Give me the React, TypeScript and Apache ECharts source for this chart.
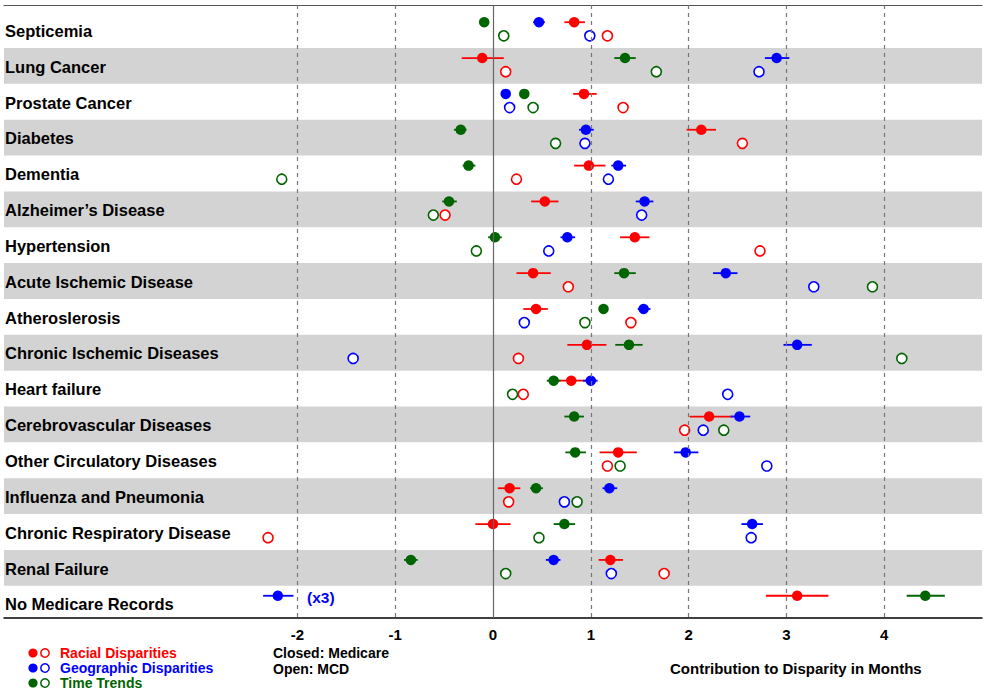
import React, { useEffect, useRef } from "react";
import * as echarts from "echarts";

const categories = [
  "Septicemia",
  "Lung Cancer",
  "Prostate Cancer",
  "Diabetes",
  "Dementia",
  "Alzheimer’s Disease",
  "Hypertension",
  "Acute Ischemic Disease",
  "Atheroslerosis",
  "Chronic Ischemic Diseases",
  "Heart failure",
  "Cerebrovascular Diseases",
  "Other Circulatory Diseases",
  "Influenza and Pneumonia",
  "Chronic Respiratory Disease",
  "Renal Failure",
  "No Medicare Records",
];

const xTicks = [-2, -1, 0, 1, 2, 3, 4];

// Racial disparities (red)
const racialMedicare = [0.83, -0.11, 0.93, 2.13, 0.98, 0.53, 1.45, 0.41, 0.44, 0.96, 0.8, 2.21, 1.28, 0.17, 0.0, 1.2, 3.11];
const racialLow = [0.73, -0.32, 0.82, 1.98, 0.83, 0.39, 1.3, 0.24, 0.31, 0.76, 0.62, 2.01, 1.09, 0.05, -0.18, 1.08, 2.79];
const racialHigh = [0.94, 0.11, 1.06, 2.28, 1.15, 0.67, 1.6, 0.59, 0.56, 1.16, 0.96, 2.45, 1.47, 0.28, 0.18, 1.33, 3.43];
const racialMCD = [1.17, 0.13, 1.33, 2.55, 0.24, -0.49, 2.73, 0.77, 1.41, 0.26, 0.31, 1.96, 1.17, 0.16, -2.3, 1.75, null];

// Geographic disparities (blue)
const geoMedicare = [0.47, 2.9, 0.13, 0.95, 1.28, 1.55, 0.76, 2.38, 1.54, 3.11, 1.0, 2.52, 1.97, 1.19, 2.65, 0.62, -2.2];
const geoLow = [0.41, 2.78, 0.11, 0.88, 1.21, 1.46, 0.69, 2.25, 1.48, 2.97, 0.92, 2.43, 1.85, 1.12, 2.54, 0.54, -2.35];
const geoHigh = [0.53, 3.03, 0.15, 1.03, 1.36, 1.64, 0.84, 2.5, 1.61, 3.26, 1.07, 2.63, 2.1, 1.27, 2.76, 0.69, -2.04];
const geoMCD = [0.99, 2.72, 0.17, 0.94, 1.18, 1.52, 0.57, 3.28, 0.32, -1.43, 2.4, 2.15, 2.8, 0.73, 2.64, 1.21, null];

// Time trends (green)
const timeMedicare = [-0.09, 1.35, 0.32, -0.33, -0.25, -0.45, 0.02, 1.34, 1.13, 1.39, 0.62, 0.83, 0.84, 0.44, 0.73, -0.84, 4.42];
const timeLow = [-0.11, 1.24, 0.3, -0.4, -0.31, -0.52, -0.05, 1.24, 1.09, 1.25, 0.55, 0.73, 0.74, 0.38, 0.62, -0.91, 4.23];
const timeHigh = [-0.07, 1.46, 0.34, -0.27, -0.18, -0.37, 0.09, 1.46, 1.17, 1.53, 0.69, 0.93, 0.95, 0.51, 0.84, -0.77, 4.62];
const timeMCD = [0.11, 1.67, 0.41, 0.64, -2.16, -0.61, -0.17, 3.88, 0.94, 4.18, 0.2, 2.36, 1.3, 0.86, 0.47, 0.13, null];

const RED = "#ff0000";
const BLUE = "#0000ff";
const GREEN = "#006400";
const FONT = "Liberation Sans";

const FILLED_OFF = 0.28;
const OPEN_OFF = 0.66;
const LABEL_OFF = 0.52;

function errorSeries(low: number[], high: number[], color: string) {
  return {
    type: "custom",
    z: 3,
    silent: true,
    encode: { x: [0, 1], y: 2 },
    data: low.map((lo, i) => [lo, high[i], i + FILLED_OFF]),
    renderItem: (params: any, api: any) => {
      const p1 = api.coord([api.value(0), api.value(2)]);
      const p2 = api.coord([api.value(1), api.value(2)]);
      return {
        type: "line",
        shape: { x1: p1[0], y1: p1[1], x2: p2[0], y2: p2[1] },
        style: { stroke: color, lineWidth: 1.8 },
      };
    },
  };
}

function filledSeries(values: number[], color: string) {
  return {
    type: "scatter",
    z: 4,
    symbol: "circle",
    symbolSize: 10.5,
    itemStyle: { color, opacity: 1 },
    data: values.map((v, i) => [v, i + FILLED_OFF]),
  };
}

function openSeries(values: (number | null)[], color: string) {
  const data: number[][] = [];
  values.forEach((v, i) => {
    if (v !== null) data.push([v, i + OPEN_OFF]);
  });
  return {
    type: "scatter",
    z: 4,
    symbol: "circle",
    symbolSize: 10,
    itemStyle: { color: "#ffffff", borderColor: color, borderWidth: 1.6, opacity: 1 },
    data,
  };
}

export default function App() {
  const ref = useRef<HTMLDivElement>(null);

  useEffect(() => {
    if (!ref.current) return;
    const chart = echarts.init(ref.current, null, { renderer: "svg" });

    const bandData: any[] = [];
    categories.forEach((_, i) => {
      if (i % 2 === 1) bandData.push([{ yAxis: i }, { yAxis: i + 1 }]);
    });

    const legendRows = [
      { label: "Racial Disparities", color: RED, y: 653 },
      { label: "Geographic Disparities", color: BLUE, y: 668 },
      { label: "Time Trends", color: GREEN, y: 683 },
    ];

    const graphic: any[] = [];
    legendRows.forEach((r) => {
      graphic.push({ type: "circle", shape: { cx: 33, cy: r.y, r: 4.6 }, style: { fill: r.color } });
      graphic.push({
        type: "circle",
        shape: { cx: 45, cy: r.y, r: 4.2 },
        style: { fill: "#fff", stroke: r.color, lineWidth: 1.5 },
      });
      graphic.push({
        type: "text",
        x: 60,
        y: r.y,
        style: { text: r.label, fill: r.color, font: `bold 14px "${FONT}"`, verticalAlign: "middle", align: "left" },
      });
    });
    graphic.push({
      type: "text",
      x: 273,
      y: 653,
      style: { text: "Closed: Medicare", fill: "#000", font: `bold 14px "${FONT}"`, verticalAlign: "middle" },
    });
    graphic.push({
      type: "text",
      x: 273,
      y: 669,
      style: { text: "Open: MCD", fill: "#000", font: `bold 14px "${FONT}"`, verticalAlign: "middle" },
    });
    graphic.push({
      type: "text",
      x: 670,
      y: 668,
      style: {
        text: "Contribution to Disparity in Months",
        fill: "#000",
        font: `bold 15px "${FONT}"`,
        verticalAlign: "middle",
      },
    });
    graphic.push({
      type: "text",
      x: 307,
      y: 597,
      z: 10,
      style: { text: "(x3)", fill: BLUE, font: `bold 15.5px "${FONT}"`, verticalAlign: "middle" },
    });

    const option: any = {
      animation: false,
      grid: { left: 4, right: 4, top: 5, bottom: 75 },
      xAxis: [
        {
          type: "value",
          min: -5,
          max: 5,
          interval: 1,
          position: "bottom",
          axisLine: { show: true, onZero: false, lineStyle: { color: "#000", width: 1.5 } },
          axisTick: { show: false },
          splitLine: { show: false },
          axisLabel: {
            margin: 9,
            color: "#000",
            fontFamily: FONT,
            fontWeight: "bold",
            fontSize: 15,
            formatter: (v: number) => (xTicks.indexOf(v) >= 0 ? String(v) : ""),
          },
        },
        {
          type: "value",
          min: -5,
          max: 5,
          position: "top",
          axisLine: { show: true, onZero: false, lineStyle: { color: "#555", width: 1.2 } },
          axisTick: { show: false },
          axisLabel: { show: false },
          splitLine: { show: false },
        },
      ],
      yAxis: {
        type: "value",
        inverse: true,
        min: -0.2,
        max: 16.9,
        show: false,
        splitLine: { show: false },
      },
      graphic,
      series: [
        {
          type: "scatter",
          z: 1,
          data: [],
          markArea: {
            silent: true,
            itemStyle: { color: "#d3d3d3" },
            data: bandData,
          },
        },
        {
          type: "scatter",
          z: 2,
          data: [],
          markLine: {
            silent: true,
            symbol: ["none", "none"],
            label: { show: false },
            lineStyle: { color: "#777", type: [4, 4], width: 1.2 },
            data: xTicks.filter((t) => t !== 0).map((t) => ({ xAxis: t })),
          },
        },
        {
          type: "scatter",
          z: 2,
          data: [],
          markLine: {
            silent: true,
            symbol: ["none", "none"],
            label: { show: false },
            lineStyle: { color: "#666", type: "solid", width: 1.2 },
            data: [{ xAxis: 0 }],
          },
        },
        {
          type: "scatter",
          z: 5,
          silent: true,
          symbolSize: 0,
          itemStyle: { color: "#000", opacity: 1 },
          data: categories.map((_, i) => [-5, i + LABEL_OFF]),
          label: {
            show: true,
            position: "right",
            distance: 1,
            color: "#000",
            opacity: 1,
            fontFamily: FONT,
            fontWeight: "bold",
            fontSize: 16.5,
            formatter: (p: any) => categories[p.dataIndex],
          },
        },
        errorSeries(racialLow, racialHigh, RED),
        errorSeries(geoLow, geoHigh, BLUE),
        errorSeries(timeLow, timeHigh, GREEN),
        filledSeries(racialMedicare, RED),
        filledSeries(geoMedicare, BLUE),
        filledSeries(timeMedicare, GREEN),
        openSeries(racialMCD, RED),
        openSeries(geoMCD, BLUE),
        openSeries(timeMCD, GREEN),
      ],
    };

    chart.setOption(option);
    return () => chart.dispose();
  }, []);

  return (
    <div
      ref={ref}
      style={{ position: "fixed", left: 0, top: 0, width: 986, height: 693, background: "#fff" }}
    />
  );
}
